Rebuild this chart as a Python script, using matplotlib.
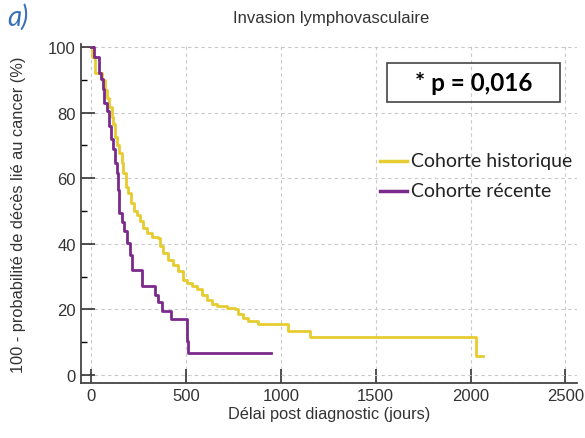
import matplotlib.pyplot as plt
from matplotlib.patches import Rectangle

# courbes de survie (jours, %)
hist_t = [0, 5, 21, 56, 74, 82, 96, 109, 117, 126, 135, 149, 161, 170, 184, 196, 210, 228, 240,
          258, 275, 293, 319, 354, 363, 381, 407, 433, 460, 486, 503, 530, 556, 582, 609, 635,
          661, 714, 758, 775, 802, 828, 881, 1040, 1153, 2026, 2065]
hist_s = [100, 97, 92, 90, 87, 84.6, 81.6, 78.6, 76.6, 72.5, 70, 67.6, 64.5, 61.5, 57.4, 55.4,
          52.4, 50, 48.8, 46.8, 44.8, 43.3, 42.2, 41.7, 39.2, 37.2, 35.2, 33.6, 31.6, 29.1, 28.1,
          27.1, 26.1, 24.5, 23, 21.5, 21, 20.5, 20, 18.5, 17.5, 16.5, 15.5, 13.3, 11.7, 5.9, 5.9]

rec_t = [0, 16, 39, 53, 65, 70, 82, 93, 107, 114, 126, 135, 140, 149, 161, 175, 188, 205, 214,
         267, 337, 354, 372, 419, 504, 512, 946]
rec_s = [100, 97, 92.2, 90.3, 87.3, 83, 80.6, 76, 72, 69, 64.5, 61.5, 56.4, 49.4, 46.7, 44, 40.3,
         36.7, 32.1, 27.1, 24.5, 22.1, 19.5, 17.2, 10.4, 6.7, 6.7]

jaune = '#e6cc2e'
violet = '#7b2a8c'

fig = plt.figure(figsize=(5.85, 4.39), dpi=100)
ax = fig.add_axes([0.138, 0.125, 0.848, 0.773])

ax.step(hist_t, hist_s, where='post', color=jaune, lw=2)
ax.step(rec_t, rec_s, where='post', color=violet, lw=2)

ax.set_xlim(-55, 2560)
ax.set_ylim(-2.5, 101)
ax.set_xticks([0, 500, 1000, 1500, 2000, 2500])
ax.set_yticks([0, 20, 40, 60, 80, 100])
ax.set_yticks(range(10, 100, 20), minor=True)
ax.tick_params(direction='in', length=10, width=1.2, labelsize=12, colors='#333333')
ax.tick_params(axis='y', which='minor', direction='in', length=4, width=1)
for lab in ax.get_xticklabels() + ax.get_yticklabels():
    lab.set_fontfamily('Liberation Sans')
ax.grid(True, which='major', ls=(0, (3, 3)), color='#c8c8c8', lw=0.8)
ax.spines['top'].set_visible(False)
ax.spines['right'].set_visible(False)
ax.spines['left'].set_linewidth(1.3)
ax.spines['bottom'].set_linewidth(1.3)
ax.spines['left'].set_color('#444444')
ax.spines['bottom'].set_color('#444444')

ax.set_xlabel('Délai post diagnostic (jours)', fontsize=11.8, family='Liberation Sans', color='#333333', labelpad=2)
ax.set_ylabel('100 - probabilité de décès lié au cancer (%)', fontsize=11.8, family='Liberation Sans',
              color='#333333', labelpad=16)
fig.text(0.566, 0.958, 'Invasion lymphovasculaire', ha='center', va='center', fontsize=12,
         family='Liberation Sans', color='#333333')
fig.text(0.013, 0.96, 'a)', ha='left', va='center', fontsize=20, style='italic',
         family='Lato', color='#3a72b8')

# encadré p
fig.patches.append(Rectangle((387 / 585, 1 - 103 / 439), 173 / 585, 39 / 439,
                             transform=fig.transFigure, fill=False, ec='#444444', lw=1.2))
fig.text(473.5 / 585, 1 - 83.5 / 439, '* p = 0,016', ha='center', va='center', fontsize=17.5,
         weight='bold', family='Lato', color='black')

# légende
for y, c, lab in [(162, jaune, 'Cohorte historique'), (192, violet, 'Cohorte récente')]:
    fig.lines.append(plt.Line2D([380 / 585, 407 / 585], [1 - y / 439, 1 - y / 439],
                                transform=fig.transFigure, color=c, lw=2.5))
    fig.text(411 / 585, 1 - y / 439, lab, ha='left', va='center', fontsize=14,
             family='Lato', color='#222222')

fig.savefig('out.png', dpi=100)
